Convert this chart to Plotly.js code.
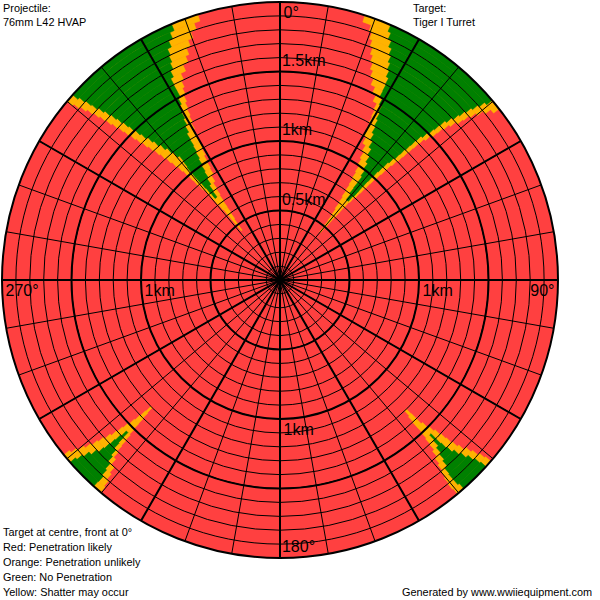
<!DOCTYPE html>
<html><head><meta charset="utf-8">
<script src="https://cdn.plot.ly/plotly-3.0.1.min.js"></script>
<style>html,body{margin:0;padding:0;background:#fff}</style>
</head><body><div id="chart" style="width:600px;height:600px"></div>
<script>
// radial band height (km) used for the coloured zones
const bandStep = 0.05;

// North-east zone (front right), bands from 0.45 km outward
const neStart = 0.45;
const neOrangeFrom = [39.5,39.2,38.8,38.3,37.6,37.2,36.6,36.2,35.8,35.3,34.8,34.0,33.3,32.5,31.2,30.1,29.8,29.5,29.2,28.8,27.5,26.3,25.0,24.0,23.2,22.5,21.8,21.1,20.4,19.7,17.8];
const neGreenFrom  = [null,null,null,null,null,null,39.5,38.8,38.6,38.5,37.8,37.0,36.0,35.0,33.8,32.8,32.0,31.5,30.9,30.4,29.5,28.6,28.5,28.3,27.6,27.0,26.4,25.8,25.0,24.2,23.5];
const neGreenTo    = [null,null,null,null,null,null,41.0,41.5,41.5,41.6,41.8,42.0,42.3,42.5,43.0,43.5,43.7,44.0,44.2,44.4,45.0,45.5,45.8,46.0,46.6,47.2,47.6,48.0,48.5,49.0,49.7];
const neOrangeTo   = [40.5,40.8,41.0,41.2,41.3,41.5,42.0,42.5,42.8,43.0,43.2,43.5,43.8,44.0,44.4,44.8,45.0,45.2,45.4,45.6,46.2,46.8,47.0,47.4,48.0,48.7,49.0,49.5,50.2,51.0,52.0];

// North-west zone (front left)
const nwStart = 0.45;
const nwOrangeFrom = [321.8,321.5,321.4,321.3,320.9,320.5,320.2,320.0,319.5,319.0,318.8,318.5,318.0,317.5,317.0,316.5,316.0,315.5,315.0,314.5,314.1,313.7,313.4,313.0,312.6,312.3,311.9,311.5,311.0,310.5,310.0];
const nwGreenFrom  = [null,null,null,null,null,null,321.5,321.2,320.9,320.6,320.5,320.5,320.8,321.0,320.2,319.5,318.6,317.8,317.2,316.5,316.0,315.6,315.2,314.8,314.4,314.0,313.5,313.0,312.7,312.3,311.8];
const nwGreenTo    = [null,null,null,null,null,null,322.8,323.2,324.2,325.0,325.5,326.0,326.5,327.0,327.3,327.5,328.3,329.0,329.5,330.0,330.7,331.4,331.4,331.5,332.3,333.1,333.6,334.0,335.0,336.0,337.0];
const nwOrangeTo   = [322.8,323.0,323.6,324.0,324.2,324.5,325.0,325.4,326.6,327.8,328.2,328.5,329.2,329.7,329.9,330.0,330.5,331.0,331.4,331.8,332.4,333.0,333.6,334.3,335.7,337.1,338.0,339.0,340.2,341.5,342.8];

// South-east zone (rear right)
const seStart = 1.30;
const seOrangeFrom = [135.6,135.5,135.5,135.0,134.5,134.0,133.7,133.5,133.2,132.7,132.0,131.5,131.0,130.7];
const seGreenFrom  = [null,null,null,null,null,135.5,135.5,135.3,135.0,134.3,133.7,133.0,132.5,132.2];
const seGreenTo    = [null,null,null,null,null,136.0,136.3,137.0,137.5,138.0,138.8,139.0,139.0,138.6];
const seOrangeTo   = [136.4,136.8,137.0,137.0,137.2,137.5,137.7,138.3,139.0,139.5,140.0,140.3,140.5,140.3];

// South-west zone (rear left)
const swStart = 1.30;
const swOrangeFrom = [225.0,224.8,224.6,224.5,224.3,224.0,223.8,223.6,223.2,222.5,221.5,221.0,220.5,220.2];
const swGreenFrom  = [null,null,null,null,null,224.9,224.8,224.6,224.0,223.5,222.8,222.4,222.0,222.1];
const swGreenTo    = [null,null,null,null,null,225.5,225.8,226.0,226.2,226.5,227.2,228.0,228.5,229.0];
const swOrangeTo   = [225.6,225.8,226.0,226.3,226.7,227.0,227.3,227.8,228.3,228.7,229.2,229.8,230.4,231.0];

// labels
const angleLabels = ["0°","90°","180°","270°"];
const angleLabelTheta = [0,90,180,270];
const rangeLabels = ["0.5km","1km","1.5km","1km","1km","1km"];
const rangeLabelR = [0.5,1,1.5,1,1,1];
const rangeLabelTheta = [0,0,0,90,180,270];
const maxRangeKm = 2;

const RED = '#FF4040', ORANGE = '#FFB300', GREEN = '#008000';

const orange = {r:[],base:[],theta:[],width:[]};
const green = {r:[],base:[],theta:[],width:[]};
function addZone(start, oF, gF, gT, oT){
  for(let i=0;i<oF.length;i++){
    const b = start + i*bandStep;
    orange.r.push(bandStep); orange.base.push(b);
    orange.theta.push((oF[i]+oT[i])/2); orange.width.push(oT[i]-oF[i]);
    if(gF[i]!==null){
      green.r.push(bandStep); green.base.push(b);
      green.theta.push((gF[i]+gT[i])/2); green.width.push(gT[i]-gF[i]);
    }
  }
}
addZone(neStart, neOrangeFrom, neGreenFrom, neGreenTo, neOrangeTo);
addZone(nwStart, nwOrangeFrom, nwGreenFrom, nwGreenTo, nwOrangeTo);
addZone(seStart, seOrangeFrom, seGreenFrom, seGreenTo, seOrangeTo);
addZone(swStart, swOrangeFrom, swGreenFrom, swGreenTo, swOrangeTo);

const labelFont = {family:'"Liberation Sans", Arial, sans-serif', size:16, color:'#000'};

const traces = [
  {type:'barpolar', subplot:'polar', r:orange.r, base:orange.base, theta:orange.theta, width:orange.width,
   marker:{color:ORANGE, line:{color:ORANGE, width:0.6}}, hoverinfo:'skip'},
  {type:'barpolar', subplot:'polar', r:green.r, base:green.base, theta:green.theta, width:green.width,
   marker:{color:GREEN, line:{color:GREEN, width:0.6}}, hoverinfo:'skip'},
  {type:'scatterpolar', subplot:'polar2', r:[0], theta:[0], mode:'markers', marker:{opacity:0}, hoverinfo:'skip'},
  {type:'scatterpolar', subplot:'polar3', mode:'markers+text', marker:{size:[4,4,1.5,4], opacity:0},
   r:angleLabels.map(()=>maxRangeKm), theta:angleLabelTheta, text:angleLabels,
   textposition:['bottom right','bottom left','top right','bottom right'],
   textfont:labelFont, hoverinfo:'skip', cliponaxis:false},
  {type:'scatterpolar', subplot:'polar3', mode:'markers+text', marker:{size:[1.5,1.5,1.5,4,4,4], opacity:0},
   r:rangeLabelR, theta:rangeLabelTheta, text:rangeLabels,
   textposition:['top right','top right','top right','bottom right','bottom right','bottom right'],
   textfont:labelFont, hoverinfo:'skip', cliponaxis:false}
];

const dom = {x:[2/600, 558/600], y:[42/600, 598/600]};
function hiddenAng(extra){ return Object.assign({rotation:90, direction:'clockwise', showticklabels:false, ticks:'', showline:false, showgrid:false}, extra); }
function hiddenRad(extra){ return Object.assign({range:[0,maxRangeKm], autorange:false, showticklabels:false, ticks:'', showline:false, showgrid:false}, extra); }

const layout = {
  width:600, height:600, margin:{l:0,r:0,t:0,b:0}, paper_bgcolor:'#fff', showlegend:false,
  polar:{domain:dom, bgcolor:RED, barmode:'overlay', angularaxis:hiddenAng({}), radialaxis:hiddenRad({})},
  polar2:{domain:dom, bgcolor:'rgba(0,0,0,0)',
    angularaxis:hiddenAng({showgrid:true, gridcolor:'#000', gridwidth:1, tickmode:'linear', tick0:0, dtick:10}),
    radialaxis:hiddenRad({showgrid:true, gridcolor:'#000', gridwidth:1, tickmode:'linear', tick0:0, dtick:0.1})},
  polar3:{domain:dom, bgcolor:'rgba(0,0,0,0)',
    angularaxis:hiddenAng({showgrid:true, gridcolor:'#000', gridwidth:2, tickmode:'linear', tick0:0, dtick:30, showline:true, linecolor:'#000', linewidth:2}),
    radialaxis:hiddenRad({showgrid:true, gridcolor:'#000', gridwidth:2, tickmode:'linear', tick0:0, dtick:0.5})},
  annotations:[]
};

const noteFont = {family:'"Liberation Sans", Arial, sans-serif', size:10.9, color:'#000'};
const notes = [
  ["Projectile:", 1, 8], ["76mm L42 HVAP", 1, 22],
  ["Target:", 411, 8], ["Tiger I Turret", 411, 22],
  ["Target at centre, front at 0°", 1, 532], ["Red: Penetration likely", 1, 547],
  ["Orange: Penetration unlikely", 1, 562], ["Green: No Penetration", 1, 577],
  ["Yellow: Shatter may occur", 1, 592], ["Generated by www.wwiiequipment.com", 400, 592]
];
notes.forEach(n=>layout.annotations.push({text:n[0], xref:'paper', yref:'paper', x:n[1]/600, y:1-n[2]/600,
  xanchor:'left', yanchor:'middle', showarrow:false, font:noteFont}));

Plotly.newPlot('chart', traces, layout, {staticPlot:true, displayModeBar:false});
</script></body></html>
